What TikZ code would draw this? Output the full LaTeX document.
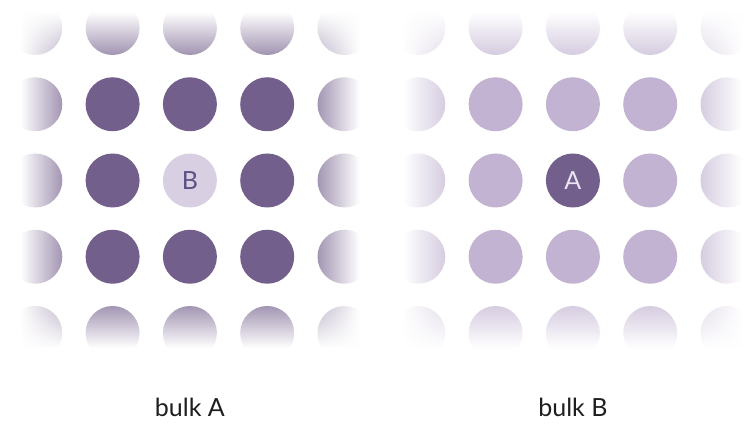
\documentclass[tikz,border=0pt]{standalone}
\usepackage{fontspec}
\setmainfont{Lato}
\usetikzlibrary{fadings}
\definecolor{darkp}{RGB}{115,95,139}
\definecolor{lightp}{RGB}{193,179,209}
\definecolor{palep}{RGB}{216,207,227}
\definecolor{letterB}{RGB}{95,80,132}
\definecolor{letterA}{RGB}{234,228,242}
\definecolor{labelc}{RGB}{30,30,30}
\tikzfading[name=opaquetop, top color=transparent!0, bottom color=transparent!100]
\tikzfading[name=opaquebottom, top color=transparent!100, bottom color=transparent!0]
\tikzfading[name=opaqueleft, left color=transparent!0, right color=transparent!100]
\tikzfading[name=opaqueright, left color=transparent!100, right color=transparent!0]
\begin{document}
\begin{tikzpicture}[x=1pt,y=1pt,
  dot/.style={circle, minimum size=54pt, inner sep=0pt, draw=none, font=\fontsize{25}{25}\selectfont},
  caption/.style={anchor=base, text=labelc, font=\fontsize{25}{25}\selectfont},
  veil/.style={fill=white, draw=none}]
\fill[white] (0,0) rectangle (745,427);
\useasboundingbox (0,0) rectangle (745,427);
% left grid: bulk A
\foreach \r in {0,...,4} {
  \foreach \c in {0,...,4} {
    \pgfmathsetmacro\xx{35.3+77.3*\c}
    \pgfmathsetmacro\yy{399-76.25*\r}
    \ifnum\r\c=22 \else
      \node[dot, fill=darkp] (L\r\c) at (\xx,\yy) {};
    \fi
  }
}
\node[dot, fill=palep, text=letterB] (Lcenter) at (189.9,246.5) {B};
% right grid: bulk B
\foreach \r in {0,...,4} {
  \foreach \c in {0,...,4} {
    \pgfmathsetmacro\xx{418.3+77.3*\c}
    \pgfmathsetmacro\yy{399-76.25*\r}
    \ifnum\r\c=22 \else
      \node[dot, fill=lightp] (R\r\c) at (\xx,\yy) {};
    \fi
  }
}
\node[dot, fill=darkp, text=letterA] (Rcenter) at (572.9,246.5) {A};
% fading veils, left grid
\fill[veil] (0,415) rectangle (381,432);
\fill[veil, path fading=opaquetop] (0,351) rectangle (381,415);
\fill[veil] (0,60) rectangle (381,79);
\fill[veil, path fading=opaquebottom] (0,79) rectangle (381,143);
\fill[veil] (0,0) rectangle (20.3,427);
\fill[veil, path fading=opaqueleft] (20.3,0) rectangle (84.3,427);
\fill[veil] (359.5,0) rectangle (381,427);
\fill[veil, path fading=opaqueright] (295.5,0) rectangle (359.5,427);
% fading veils, right grid
\fill[veil] (383,415) rectangle (760,432);
\fill[veil, path fading=opaquetop] (383,351) rectangle (760,415);
\fill[veil] (383,60) rectangle (760,79);
\fill[veil, path fading=opaquebottom] (383,79) rectangle (760,143);
\fill[veil] (383,0) rectangle (403.3,427);
\fill[veil, path fading=opaqueleft] (403.3,0) rectangle (467.3,427);
\fill[veil] (742.5,0) rectangle (760,427);
\fill[veil, path fading=opaqueright] (678.5,0) rectangle (742.5,427);
% captions
\node[caption] (capA) at (189.9,10) {bulk A};
\node[caption] (capB) at (572.9,10) {bulk B};
\end{tikzpicture}
\end{document}
